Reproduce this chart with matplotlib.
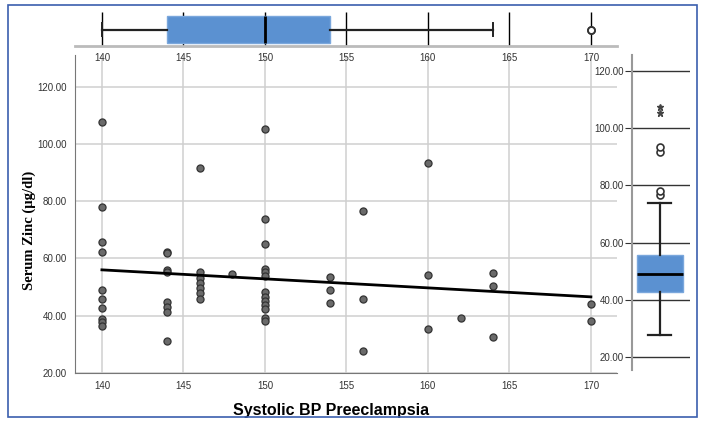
import matplotlib
import matplotlib.pyplot as plt
import numpy as np
from matplotlib import cbook
from matplotlib.patches import Rectangle

matplotlib.use("Agg")

# systolic BP groups and the zinc values read at each one
bp_140 = [107.5, 77.9, 65.6, 62.3, 49.0, 45.9, 42.6, 38.9, 37.8, 36.5]
bp_144 = [62.4, 61.8, 56.0, 55.4, 44.9, 43.0, 41.2, 31.2]
bp_146 = [91.6, 55.1, 53.1, 51.3, 49.6, 48.0, 46.0]
bp_148 = [54.7]
bp_150 = [105.2, 73.7, 65.2, 56.3, 55.1, 53.8, 48.1, 46.7, 45.3, 43.8, 42.4, 39.1, 38.3]
bp_154 = [53.6, 49.0, 44.4]
bp_156 = [76.7, 46.0, 27.7]
bp_160 = [93.3, 54.1, 35.2]
bp_162 = [39.3]
bp_164 = [55.0, 50.2, 32.7]
bp_170 = [44.2, 38.3]

groups = {140: bp_140, 144: bp_144, 146: bp_146, 148: bp_148, 150: bp_150,
          154: bp_154, 156: bp_156, 160: bp_160, 162: bp_162, 164: bp_164, 170: bp_170}

x_ticks = [140, 145, 150, 155, 160, 165, 170]
y_ticks = [20, 40, 60, 80, 100, 120]

bp = np.array([k for k, v in groups.items() for _ in v], float)
zinc = np.array([z for v in groups.values() for z in v], float)

BLUE = "#5b91d1"
GRID = "#cfcfcf"
TICK_FONT = dict(fontsize=7, color="#333333", family="Liberation Sans")

fig = plt.figure(figsize=(7.04, 4.21), dpi=100)
W, H = 704, 421


def rect(left, top, right, bottom):
    return [left / W, 1 - bottom / H, (right - left) / W, (bottom - top) / H]


# main scatter
ax = fig.add_axes(rect(75, 55, 617, 373))
ax.set_xlim(138.35, 171.6)
ax.set_ylim(20, 131)
ax.set_xticks(x_ticks)
ax.set_yticks(y_ticks)
ax.set_yticklabels([f"{v:.2f}" for v in y_ticks])
ax.grid(True, color=GRID, lw=1.1)
ax.set_axisbelow(True)
for side in ("top", "right"):
    ax.spines[side].set_visible(False)
for side in ("left", "bottom"):
    ax.spines[side].set_color("#777777")
ax.tick_params(length=0, pad=6)
for lab in ax.get_xticklabels() + ax.get_yticklabels():
    lab.set(**TICK_FONT)

ax.scatter(bp, zinc, s=26, color="#6a6a6a", edgecolor="#333333", linewidth=0.9, zorder=3)

slope, intercept = np.polyfit(bp, zinc, 1)
fit_x = np.array([bp.min(), bp.max()])
ax.plot(fit_x, intercept + slope * fit_x, color="black", lw=2, zorder=4)

ax.set_xlabel("Systolic BP Preeclampsia", fontsize=11.5, fontweight="bold",
              family="Liberation Sans")
ax.xaxis.set_label_coords(0.472, -0.095)
ax.set_ylabel("Serum Zinc (µg/dl)", fontsize=10.5, fontweight="bold",
              family="Liberation Serif")
ax.yaxis.set_label_coords(-0.072, 0.45)

# top boxplot of systolic BP
ax_top = fig.add_axes(rect(75, 10, 617, 46))
ax_top.set_xlim(ax.get_xlim())
ax_top.set_ylim(0, 1)
ax_top.vlines(x_ticks, 0, 0.94, color="black", lw=1)
ax_top.boxplot(bp, vert=False, positions=[0.458], widths=0.75, patch_artist=True,
               boxprops=dict(facecolor=BLUE, edgecolor="#7aa7dc", lw=1),
               medianprops=dict(color="black", lw=2),
               whiskerprops=dict(color="#222222", lw=1.6),
               capprops=dict(color="#222222", lw=1.4), capwidths=0.35,
               flierprops=dict(marker="o", markersize=5, markerfacecolor="white",
                               markeredgecolor="#333333", markeredgewidth=1.3))
ax_top.set_xticks(x_ticks)
ax_top.set_yticks([])
for side in ("top", "right", "left"):
    ax_top.spines[side].set_visible(False)
ax_top.spines["bottom"].set_color("#bbbbbb")
ax_top.spines["bottom"].set_linewidth(2)
ax_top.tick_params(length=0, pad=5)
for lab in ax_top.get_xticklabels():
    lab.set(**TICK_FONT)

# right boxplot of serum zinc
ax_r = fig.add_axes(rect(632, 55, 690, 370))
ax_r.set_ylim(15.5, 125.6)
ax_r.set_xlim(0.513, 1.522)
for y in y_ticks:
    ax_r.axhline(y, color="#333333", lw=1, zorder=0)

stats = cbook.boxplot_stats(zinc)[0]
iqr = stats["q3"] - stats["q1"]
fliers = stats["fliers"]
extreme = fliers[(fliers > stats["q3"] + 3 * iqr) | (fliers < stats["q1"] - 3 * iqr)]
mild = np.setdiff1d(fliers, extreme)
stats["fliers"] = []
ax_r.bxp([stats], positions=[1], widths=0.8, patch_artist=True,
         boxprops=dict(facecolor=BLUE, edgecolor="#7aa7dc", lw=1),
         medianprops=dict(color="black", lw=2),
         whiskerprops=dict(color="#222222", lw=1.6),
         capprops=dict(color="#222222", lw=1.6))
ax_r.plot(np.ones(len(mild)), mild, "o", ms=5, mfc="white", mec="#333333", mew=1.2)
ax_r.plot(np.ones(len(extreme)), extreme, "*", ms=4.5, color="#444444")

ax_r.set_xticks([])
ax_r.set_yticks(y_ticks)
ax_r.set_yticklabels([f"{v:.2f}" for v in y_ticks])
for side in ("top", "right", "bottom"):
    ax_r.spines[side].set_visible(False)
ax_r.spines["left"].set_color("#999999")
ax_r.spines["left"].set_linewidth(1.5)
ax_r.tick_params(axis="y", length=5, color="#333333", pad=1)
for lab in ax_r.get_yticklabels():
    lab.set(**TICK_FONT)

# blue frame around the whole figure
fig.patches.append(Rectangle((8 / W, 4 / H), 689 / W, 412 / H, transform=fig.transFigure,
                             fill=False, edgecolor="#3b5fae", lw=1.2))

fig.savefig("out.png", dpi=100)
plt.close(fig)
